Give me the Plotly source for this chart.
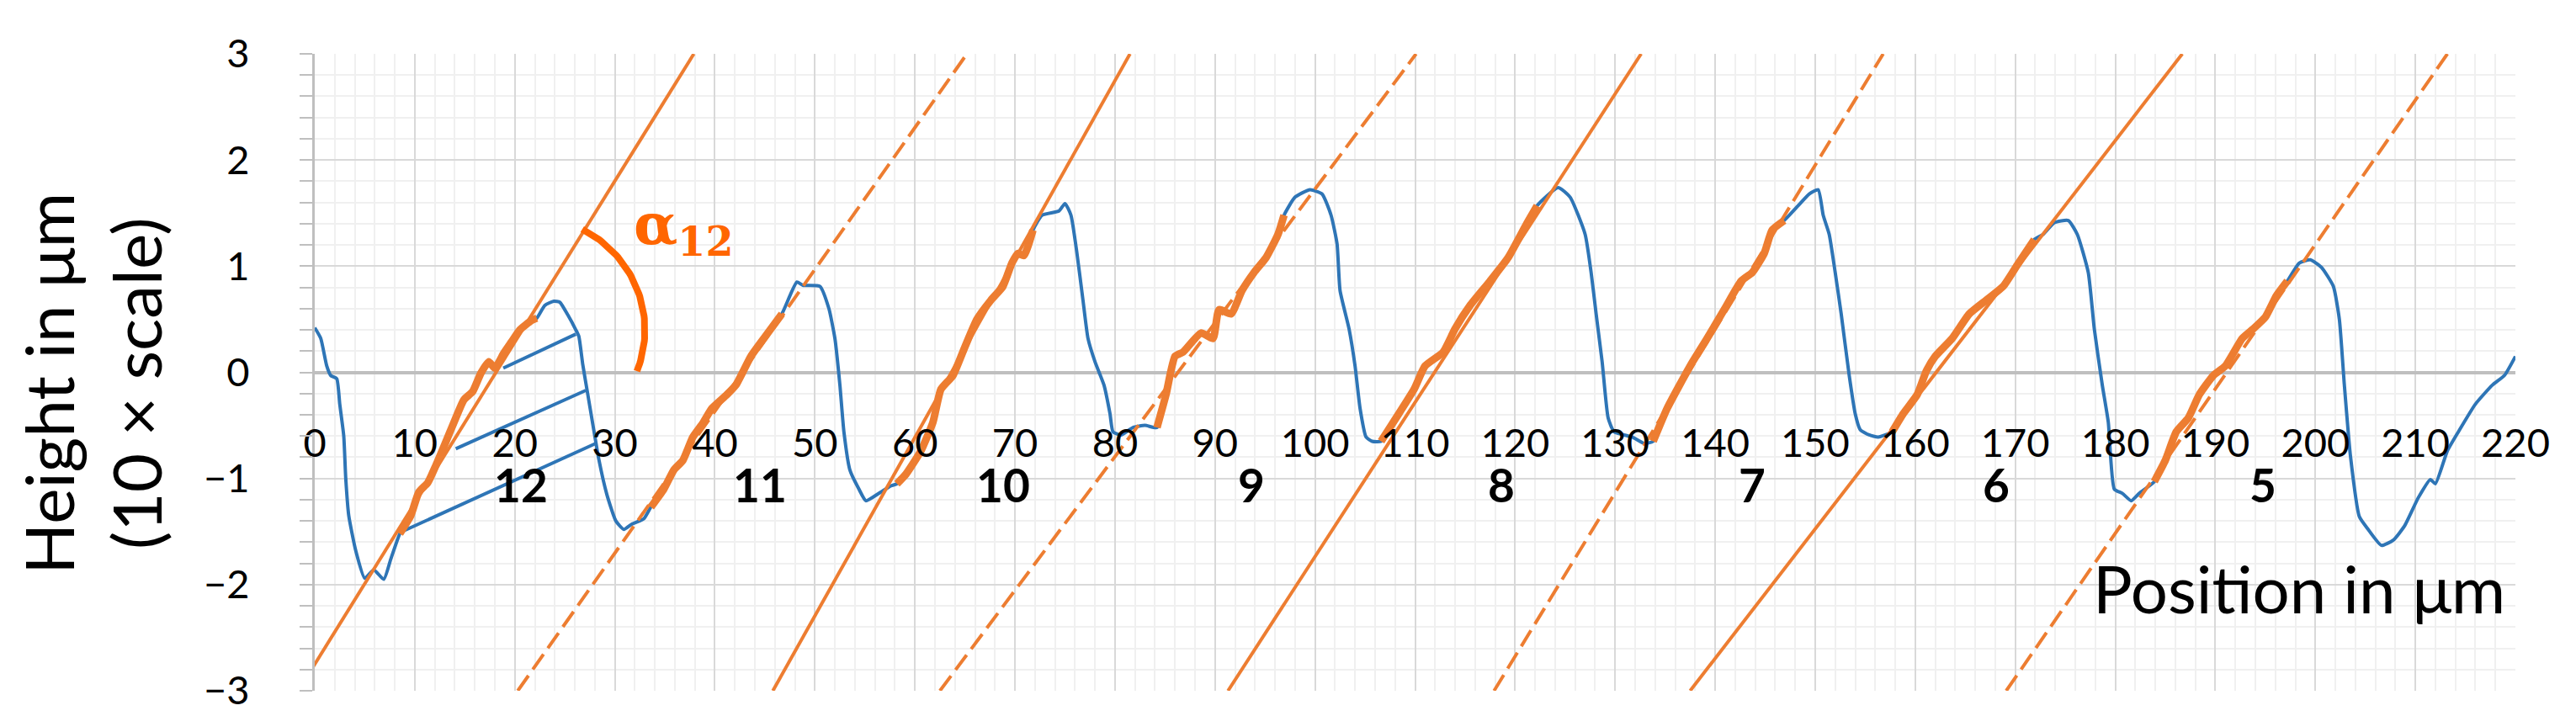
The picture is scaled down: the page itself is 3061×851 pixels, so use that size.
import numpy as np
import plotly.graph_objects as go

# ---------------- data ----------------
profile_x = [0.0, 0.6, 1.2, 1.6, 2.2, 2.5, 2.9, 3.1, 3.4, 4.1, 5.0, 5.9, 6.9, 7.6, 8.5, 9.6, 10.4, 11.3, 12.1, 13.0,
             14.1, 14.9, 15.8, 16.6, 17.4, 18.0, 18.9, 19.7, 20.5, 21.7, 22.2, 23.0, 23.9, 24.5, 25.3, 26.1, 26.4, 26.8,
             27.3, 27.8, 28.4, 29.2, 30.1, 30.9, 31.7, 32.9, 33.6, 34.9, 35.9, 36.8, 37.8, 38.8, 39.7, 41.2, 42.1, 43.6,
             44.9, 46.7, 48.2, 48.8, 50.5, 51.4, 52.0, 52.5, 52.9, 53.5, 54.4, 55.1, 56.4, 57.6, 58.2, 59.1, 60.6, 61.8,
             62.6, 63.8, 65.0, 66.2, 67.6, 68.8, 69.7, 70.3, 70.9, 71.8, 72.7, 74.4, 75.0, 75.6, 76.2, 76.8, 77.3, 78.0,
             78.9, 79.5, 79.8, 80.6, 81.8, 83.0, 84.2, 85.1, 86.0, 86.8, 88.6, 89.8, 90.4, 91.6, 92.7, 93.9, 95.1, 96.3,
             96.9, 98.0, 99.5, 100.7, 101.6, 102.2, 102.5, 103.4, 104.0, 104.5, 105.1, 105.7, 106.6, 108.1, 109.9, 111.0,
             112.8, 114.0, 115.5, 117.5, 119.3, 121.1, 122.2, 124.3, 125.5, 127.0, 127.6, 128.1, 128.7, 129.3, 129.9,
             131.7, 132.9, 133.8, 135.2, 137.5, 139.2, 140.9, 142.6, 143.7, 144.9, 145.7, 146.9, 148.3, 149.4, 150.3,
             150.8, 151.4, 152.0, 152.6, 153.4, 154.0, 154.5, 155.4, 156.3, 157.7, 158.8, 160.2, 161.1, 162.0, 163.7,
             165.4, 167.1, 168.8, 170.2, 171.9, 172.8, 173.9, 175.3, 176.2, 177.3, 177.9, 178.7, 179.3, 179.9, 180.7,
             181.6, 182.4, 183.9, 185.0, 186.1, 187.3, 188.4, 189.8, 191.0, 192.7, 193.8, 195.0, 196.1, 197.2, 198.4,
             199.5, 200.6, 201.8, 202.4, 202.9, 203.5, 204.4, 205.2, 206.6, 207.8, 208.9, 210.3, 211.5, 212.0, 213.2,
             214.3, 216.0, 217.7, 218.9, 220.0]
profile_y = [0.42, 0.32, 0.06, -0.03, -0.06, -0.30, -0.60, -1.00, -1.35, -1.68, -1.94, -1.86, -1.95, -1.76, -1.52,
             -1.35, -1.13, -1.04, -0.88, -0.68, -0.43, -0.26, -0.18, -0.01, 0.10, 0.04, 0.18, 0.29, 0.40, 0.49, 0.51,
             0.63, 0.67, 0.66, 0.54, 0.40, 0.34, 0.07, -0.21, -0.49, -0.82, -1.15, -1.40, -1.48, -1.43, -1.38, -1.27,
             -1.10, -0.92, -0.83, -0.61, -0.48, -0.34, -0.21, -0.12, 0.15, 0.32, 0.55, 0.85, 0.82, 0.81, 0.60, 0.32,
             -0.12, -0.56, -0.92, -1.10, -1.21, -1.14, -1.07, -1.05, -0.96, -0.74, -0.47, -0.16, -0.03, 0.24, 0.50,
             0.68, 0.81, 1.03, 1.12, 1.10, 1.34, 1.48, 1.52, 1.59, 1.48, 1.12, 0.68, 0.32, 0.10, -0.12, -0.39, -0.56,
             -0.59, -0.52, -0.50, -0.52, -0.21, 0.15, 0.19, 0.37, 0.32, 0.59, 0.55, 0.77, 0.94, 1.08, 1.30, 1.48, 1.65,
             1.72, 1.68, 1.48, 1.21, 0.77, 0.41, 0.06, -0.34, -0.61, -0.65, -0.65, -0.43, -0.16, 0.06, 0.19, 0.41, 0.63,
             0.86, 1.08, 1.39, 1.57, 1.74, 1.65, 1.30, 0.94, 0.55, 0.10, -0.43, -0.56, -0.61, -0.67, -0.65, -0.34, 0.06,
             0.32, 0.59, 0.86, 0.94, 1.12, 1.34, 1.43, 1.57, 1.68, 1.72, 1.48, 1.30, 0.94, 0.55, -0.03, -0.39, -0.54,
             -0.59, -0.61, -0.56, -0.39, -0.21, 0.01, 0.15, 0.32, 0.55, 0.68, 0.81, 1.01, 1.25, 1.30, 1.41, 1.43, 1.30,
             0.94, 0.41, -0.12, -0.47, -1.10, -1.14, -1.21, -1.14, -1.03, -0.83, -0.56, -0.43, -0.21, -0.03, 0.06, 0.32,
             0.41, 0.52, 0.72, 0.86, 1.03, 1.06, 0.99, 0.81, 0.50, -0.12, -0.78, -1.36, -1.47, -1.63, -1.58, -1.45,
             -1.18, -1.01, -1.05, -0.74, -0.56, -0.30, -0.12, -0.03, 0.15]

# segments (flank number, highlighted flank range, fitted line)
seg_labels = ["12", "11", "10", "9", "8", "7", "6", "5"]
seg_label_x = [20.6, 44.5, 68.8, 93.6, 118.6, 143.7, 168.1, 194.8]
seg_label_y = [-1.06] * 8
flank_start = [8.5, 33.6, 58.2, 84.2, 106.6, 133.8, 157.7, 183.9]
flank_end = [22.2, 46.7, 71.8, 96.9, 122.2, 146.9, 171.9, 197.2]
fit_x_at_bottom = [-1.65, 20.3, 45.8, 62.5, 91.3, 117.9, 137.5, 169.1]   # x where line meets y = -3
fit_x_at_top = [37.9, 65.2, 81.5, 110.1, 132.6, 156.8, 186.7, 213.2]     # x where line meets y = +3
fit_dashed = [False, True, False, True, False, True, False, True]

# blue construction lines on flank 12
hatch_x0 = [18.85, 14.1, 8.5]
hatch_y0 = [0.04, -0.72, -1.51]
hatch_x1 = [26.1, 27.1, 28.1]
hatch_y1 = [0.36, -0.17, -0.67]

# angle arc alpha_12 (centre in data units, radius in px, angles in degrees on screen)
arc_center = (21.4, 0.40)
arc_radius_px = 138
arc_angles = (62.6, -21.4)
alpha_pos = (36.9, 1.36)

x_ticks = list(range(0, 221, 10))
y_range = [-3, 3]
x_range = [0, 220]

# ---------------- layout constants ----------------
W, H = 3061, 851
ML, MR, MT, MB = 366, 80, 56, 20
PW, PH = W - ML - MR, H - MT - MB
px_per_x = PW / (x_range[1] - x_range[0])
px_per_y = PH / (y_range[1] - y_range[0])

BLUE = "#2E75B6"
ORANGE = "#ED7D31"
ARC = "#FF6600"
FONT = "Lato"
SMOOTH = 0.5

fig = go.Figure()

# profile
fig.add_trace(go.Scatter(x=profile_x, y=profile_y, mode="lines",
                         line=dict(color=BLUE, width=4, shape="spline", smoothing=SMOOTH),
                         hoverinfo="skip", showlegend=False))

# construction lines
for x0, y0, x1, y1 in zip(hatch_x0, hatch_y0, hatch_x1, hatch_y1):
    fig.add_trace(go.Scatter(x=[x0, x1], y=[y0, y1], mode="lines",
                             line=dict(color=BLUE, width=4), showlegend=False, hoverinfo="skip"))

# fitted lines
for xb, xt, dashed in zip(fit_x_at_bottom, fit_x_at_top, fit_dashed):
    fig.add_trace(go.Scatter(x=[xb, xt], y=y_range, mode="lines",
                             line=dict(color=ORANGE, width=4, dash="22px,9px" if dashed else "solid"),
                             showlegend=False, hoverinfo="skip"))

# highlighted flanks
px_arr = np.array(profile_x)
py_arr = np.array(profile_y)
for a, b in zip(flank_start, flank_end):
    m = (px_arr >= a - 1e-9) & (px_arr <= b + 1e-9)
    fig.add_trace(go.Scatter(x=px_arr[m], y=py_arr[m], mode="lines",
                             line=dict(color=ORANGE, width=9, shape="spline", smoothing=SMOOTH),
                             showlegend=False, hoverinfo="skip"))

# angle arc
th = np.radians(np.linspace(arc_angles[0], arc_angles[1], 60))
arc_x = arc_center[0] + arc_radius_px * np.cos(th) / px_per_x
arc_y = arc_center[1] + arc_radius_px * np.sin(th) / px_per_y
fig.add_trace(go.Scatter(x=arc_x, y=arc_y, mode="lines", line=dict(color=ARC, width=8),
                         showlegend=False, hoverinfo="skip"))

# segment labels
for t, x, y in zip(seg_labels, seg_label_x, seg_label_y):
    fig.add_annotation(x=x, y=y, text=f"<b>{t}</b>", showarrow=False,
                       font=dict(family=FONT, size=55, color="black"), xanchor="center", yanchor="middle")

# alpha label
fig.add_annotation(x=alpha_pos[0], y=alpha_pos[1], text="<b>α<sub>12</sub></b>", showarrow=False,
                   font=dict(family="DejaVu Serif", size=68, color=ARC), xanchor="center", yanchor="middle")

# axis titles as annotations
fig.add_annotation(xref="paper", x=(2971 - ML) / PW, yref="y", y=-2.03, text="Position in μm",
                   showarrow=False, xanchor="right", yanchor="middle",
                   font=dict(family=FONT, size=78, color="black"))
fig.add_annotation(xref="paper", yref="paper", x=(101 - ML) / PW, y=1 - (457 - MT) / PH,
                   text="Height in μm<br>(10 × scale)", textangle=-90, showarrow=False,
                   xanchor="center", yanchor="middle", font=dict(family=FONT, size=80, color="black"))

fig.update_layout(
    width=W, height=H, margin=dict(l=ML, r=MR, t=MT, b=MB),
    paper_bgcolor="white", plot_bgcolor="white",
    xaxis=dict(range=x_range, tickvals=x_ticks, ticktext=[str(v) for v in x_ticks],
               anchor="free", position=0.5, showgrid=True, gridcolor="#D9D9D9", gridwidth=2,
               minor=dict(dtick=2, tick0=0, showgrid=True, gridcolor="#F0F0F0", gridwidth=2),
               zeroline=False, showline=False, ticks="", ticklabelstandoff=52,
               ticklabeloverflow="allow",
               tickfont=dict(family=FONT, size=47, color="black")),
    yaxis=dict(range=y_range, dtick=1, tick0=0, showgrid=True, gridcolor="#D9D9D9", gridwidth=2,
               minor=dict(dtick=0.2, tick0=0, showgrid=True, gridcolor="#F0F0F0", gridwidth=2,
                          ticks="outside", ticklen=15, tickcolor="#BFBFBF", tickwidth=2),
               ticks="outside", ticklen=15, tickcolor="#BFBFBF", tickwidth=2,
               zeroline=True, zerolinecolor="#BFBFBF", zerolinewidth=4,
               showline=True, linecolor="#BFBFBF", linewidth=3,
               ticklabeloverflow="allow",
               ticklabelstandoff=50, tickfont=dict(family=FONT, size=47, color="black")),
)

fig.write_html("out.html")
